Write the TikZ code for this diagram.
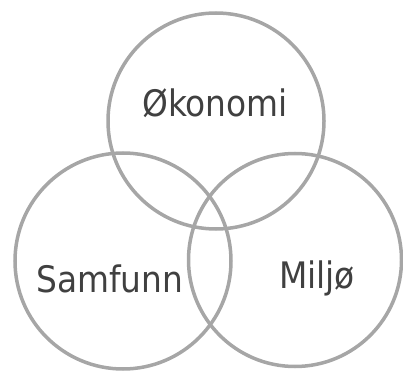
\documentclass[tikz,border=0pt]{standalone}
\usepackage{fontspec}
\setmainfont{DejaVu Sans Condensed}
\definecolor{ringgray}{HTML}{A6A6A6}
\definecolor{textgray}{HTML}{404040}
\begin{document}
\begin{tikzpicture}[x=1pt,y=-1pt]
\useasboundingbox (0,0) rectangle (403,371);
\node[draw=ringgray,line width=3.5pt,circle,minimum size=216pt,inner sep=0pt] (oko) at (216,121) {};
\node[draw=ringgray,line width=3.5pt,circle,minimum size=216pt,inner sep=0pt] (sam) at (123,261) {};
\node[draw=ringgray,line width=3.5pt,circle,minimum size=213pt,inner sep=0pt] (mil) at (295,260) {};
\node[anchor=base,text=textgray,font=\fontsize{36.5}{44}\selectfont,inner sep=0pt] (okot) at (215,117) {Økonomi};
\node[anchor=base,text=textgray,font=\fontsize{36.5}{44}\selectfont,inner sep=0pt] (samt) at (110,292) {Samfunn};
\node[anchor=base,text=textgray,font=\fontsize{36.5}{44}\selectfont,inner sep=0pt] (milt) at (317,288) {Miljø};
\end{tikzpicture}
\end{document}
